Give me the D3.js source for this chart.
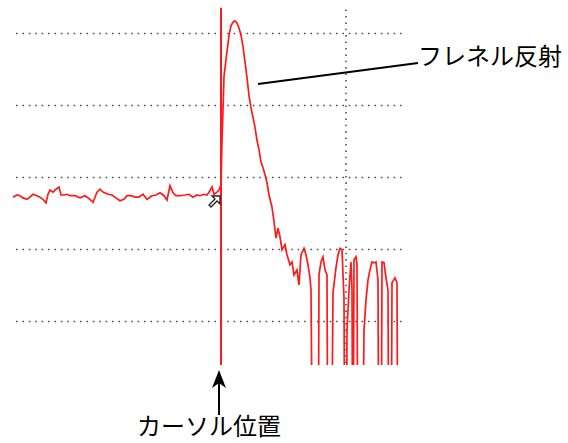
<!DOCTYPE html>
<html>
<head>
<meta charset="utf-8">
<script src="https://cdn.jsdelivr.net/npm/d3@7"></script>
<style>
html,body{margin:0;padding:0;background:#fff;}
svg{display:block;}
</style>
</head>
<body>
<svg id="chart" width="568" height="443"></svg>
<script>
// ---- data ----
const distance = [0,4,7,10,14,17,20,24,27,30,33,35,37,40,43,46,48,51,54,57,62,67,72,77,80,84,87,90,95,99,103,107,111,114,118,122,126,130,134,139,143,147,151,154,157,160,163,167,172,176,180,184,187,191,194,197,199,201,204,206,208,209,210,211,213,214,215,216,218,220,222,224,226,228,230,232,234,236,238,240,242,244,246,248,250,252,254,256,259,261,263,265,267,269,272,274,277,279,281,284,286,288,291,293,295,297,298,300,305,306,308,310,312,314,315,318,320,323,325,327,329,331,332,333,334,336,338,339,340,341,343,344,345,349,351,353,355,357,359,361,363,365,366,368,369,371,373,375,376,378,379,382,384,385];
const level = [17.2,17.5,17.4,17.1,16.9,17.2,17.6,17.4,17.2,16.9,16.4,17.6,18.2,17.9,18.3,18.6,17.5,17.5,17.6,17.4,17.4,17.1,17.4,16.9,16.5,17.9,18.3,17.9,17.6,17.5,17.1,16.7,16.9,17.4,17.4,17.2,17.2,17.6,16.9,17.4,17.5,17.8,17.4,16.8,18.8,17.8,17.4,17.4,17.5,17.6,17.2,17.5,17.4,17.6,17.5,18.1,18.6,17.6,17.9,18.2,18.9,25.1,29.3,34.0,36.3,37.4,38.5,39.7,41.0,41.5,41.7,41.4,40.7,39.7,38.1,36.0,33.8,31.3,29.6,28.3,26.9,25.1,23.8,22.1,21.3,20.3,19.2,17.5,15.8,13.8,11.5,12.9,11.7,9.9,10.6,9.2,7.8,8.2,6.4,7.1,5.0,9.2,10.1,9.2,7.8,6.0,4.3,-30,-30,6.4,8.2,8.9,7.1,6.4,-30,-30,3.9,7.4,9.2,10.1,9.9,3.2,-30,-30,-1.3,4.3,8.2,4.3,-30,8.5,8.9,7.8,-30,-30,-1.3,2.9,5.7,7.1,8.2,8.1,8.2,5.7,-30,-30,8.2,8.1,6.0,4.3,-30,-30,5.3,6.0,5.3,-30];
const levelGrid = [0,10,20,30,40];
const distanceGrid = [333];
const cursorPos = 208;
const labelReflection = "フレネル反射";
const labelCursor = "カーソル位置";

// ---- scales ----
const x = d3.scaleLinear().domain([0,390]).range([13,403]);
const y = d3.scaleLinear().domain([0,40]).range([321,33]);
const yMin = -6.1, yMax = 43.5;

const svg = d3.select("#chart");
const defs = svg.append("defs");
defs.append("clipPath").attr("id","plotclip").append("rect")
  .attr("x",0).attr("y",0).attr("width",568).attr("height",y(yMin));

// ---- grid ----
const grid = svg.append("g").attr("stroke","#555").attr("stroke-width",1.6).attr("stroke-dasharray","1.6,4.8");
grid.selectAll("line.h").data(levelGrid).join("line").attr("class","h")
  .attr("x1",16).attr("x2",x(390)).attr("y1",d=>Math.round(y(d))+0.5).attr("y2",d=>Math.round(y(d))+0.5);
grid.selectAll("line.v").data(distanceGrid).join("line").attr("class","v")
  .attr("x1",d=>x(d)).attr("x2",d=>x(d)).attr("y1",9.5).attr("y2",y(yMin));

// ---- trace ----
const pts = distance.map((d,i)=>[d,level[i]]);
const line = d3.line().x(d=>x(d[0])).y(d=>y(d[1]));
svg.append("path").datum(pts).attr("clip-path","url(#plotclip)")
  .attr("d",line).attr("fill","none").attr("stroke","#ff1a1a").attr("stroke-width",1.7)
  .attr("stroke-linejoin","miter");

// ---- cursor ----
svg.append("line").attr("x1",x(cursorPos)).attr("x2",x(cursorPos))
  .attr("y1",y(yMax)).attr("y2",y(yMin)).attr("stroke","#ff1a1a").attr("stroke-width",2);

// pointer icon
svg.append("path").attr("transform",`translate(${x(cursorPos)-7},202)`)
  .attr("d","M6,-6 L6,2 L3,-1 L-3,5 L-5,3 L1,-3 L-2,-6 Z")
  .attr("fill","#fff").attr("stroke","#222").attr("stroke-width",1.3).attr("stroke-linejoin","miter");

// ---- annotations ----
svg.append("line").attr("x1",258).attr("y1",84).attr("x2",418).attr("y2",63)
  .attr("stroke","#000").attr("stroke-width",2);
svg.append("text").attr("x",418).attr("y",65).text(labelReflection)
  .attr("font-family","'Noto Sans CJK JP', sans-serif").attr("font-size",24).attr("fill","#000");

const ax = x(cursorPos) - 2;
svg.append("line").attr("x1",ax).attr("x2",ax).attr("y1",415).attr("y2",382)
  .attr("stroke","#000").attr("stroke-width",2);
svg.append("path").attr("transform",`translate(${ax},370)`)
  .attr("d","M0,0 L7,18 L0,13 L-7,18 Z").attr("fill","#000");
svg.append("text").attr("x",209).attr("y",435).attr("text-anchor","middle").text(labelCursor)
  .attr("font-family","'Noto Sans CJK JP', sans-serif").attr("font-size",24).attr("fill","#000");
</script>
</body>
</html>
